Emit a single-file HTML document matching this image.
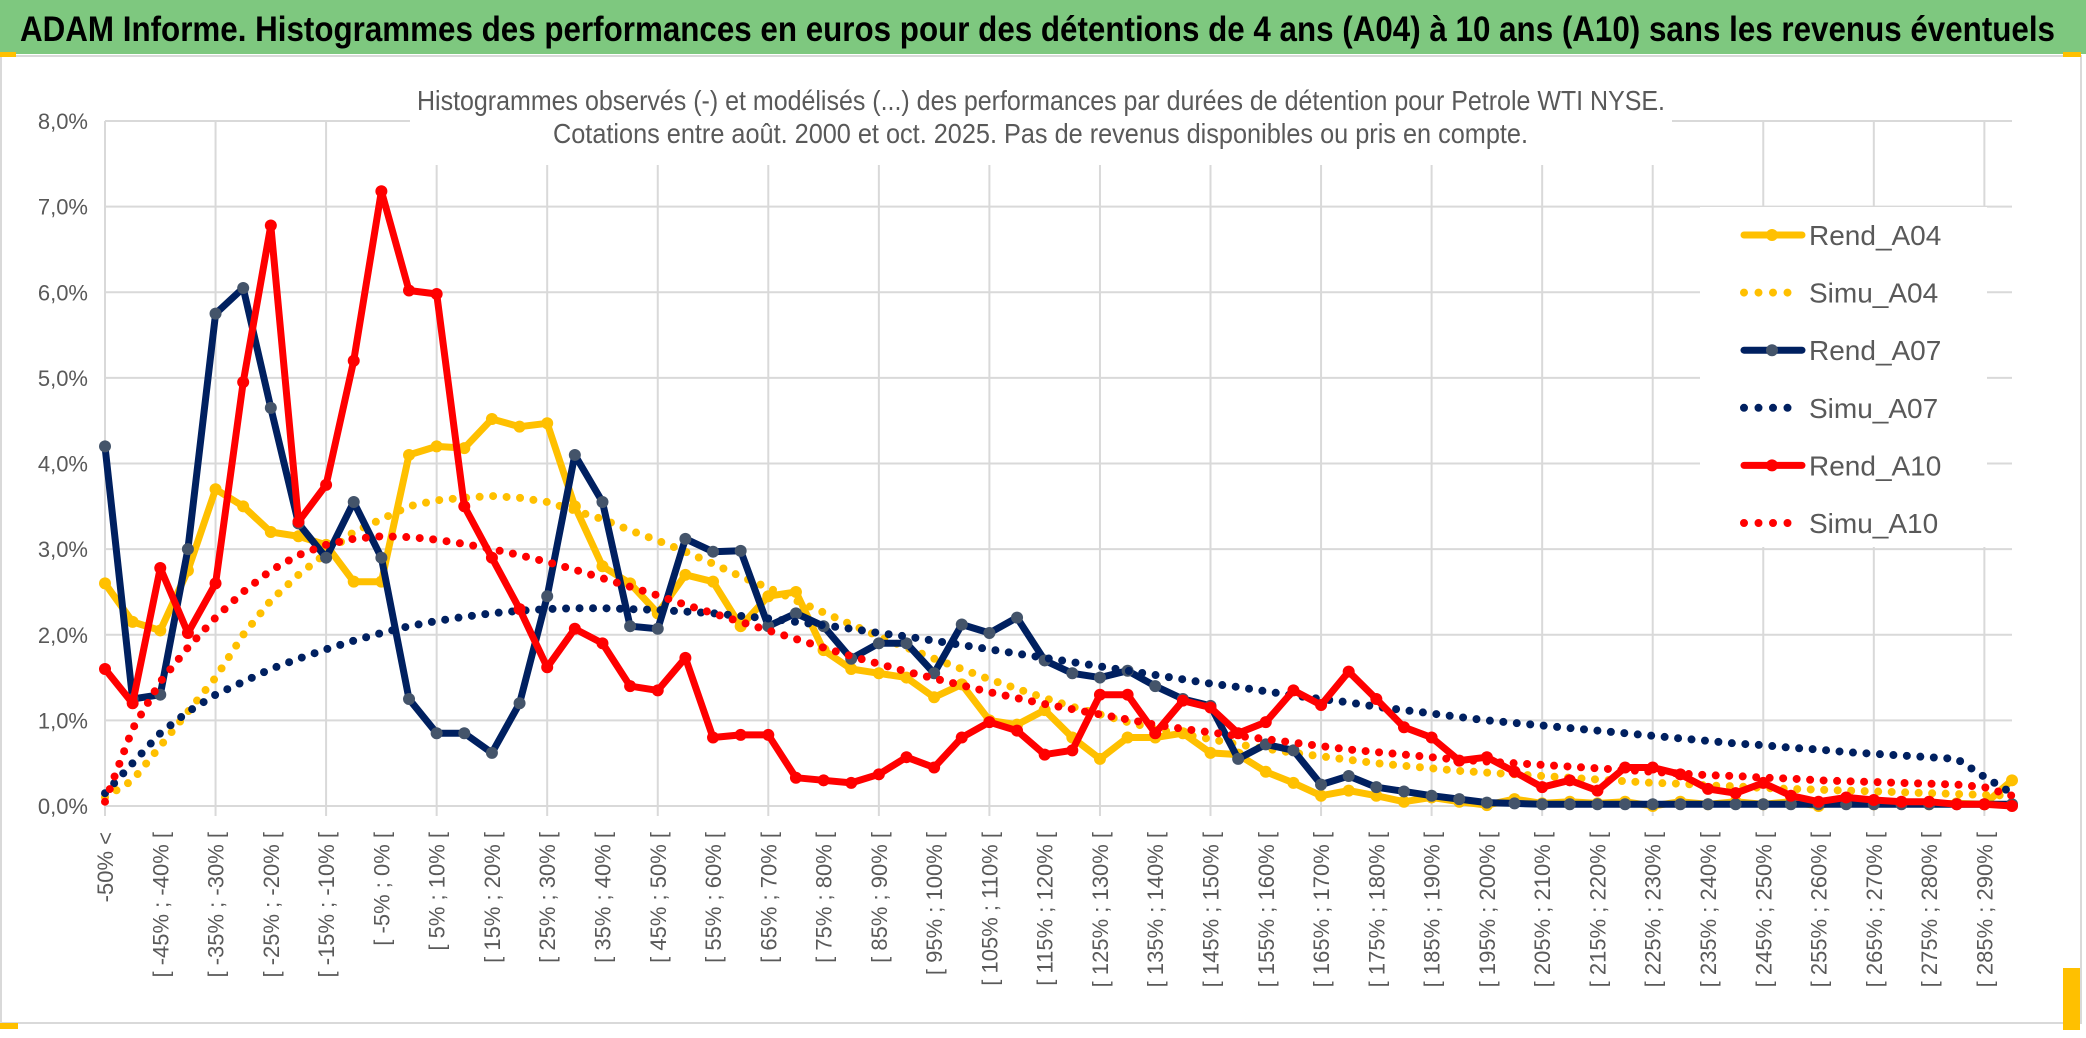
<!DOCTYPE html>
<html><head><meta charset="utf-8">
<style>
html,body{margin:0;padding:0;background:#fff;}
body{width:2086px;height:1033px;overflow:hidden;font-family:"Liberation Sans",sans-serif;}
svg text{font-family:"Liberation Sans",sans-serif;}
</style></head>
<body>
<svg id="chart" width="2086" height="1033" viewBox="0 0 2086 1033" xmlns="http://www.w3.org/2000/svg">
  <rect x="0" y="0" width="2086" height="1033" fill="#fff"/>
  <rect x="0" y="0" width="2086" height="54" fill="#7ec87f"/>
  <text x="20" y="41" font-size="35" font-weight="bold" fill="#000" textLength="2035" lengthAdjust="spacingAndGlyphs">ADAM Informe. Histogrammes des performances en euros pour des détentions de 4 ans (A04) à 10 ans (A10) sans les revenus éventuels</text>
  <rect x="1" y="56" width="2080" height="967" fill="none" stroke="#d9d9d9" stroke-width="2"/>
  <rect x="0" y="52" width="16" height="5" fill="#ffc000"/>
  <rect x="2063" y="52" width="18" height="5" fill="#ffc000"/>
  <rect x="0" y="1023" width="18" height="6" fill="#ffc000"/>
  <rect x="2063" y="968" width="17" height="62" fill="#ffc000"/>
  <g id="grid"></g>
  <rect x="410" y="112" width="1262" height="53" fill="#fff"/>
  <text x="417" y="110" font-size="28" fill="#595959" textLength="1248" lengthAdjust="spacingAndGlyphs">Histogrammes observés (-) et modélisés (...) des performances par durées de détention pour Petrole WTI NYSE.</text>
  <text x="553" y="143" font-size="28" fill="#595959" textLength="975" lengthAdjust="spacingAndGlyphs">Cotations entre août. 2000 et oct. 2025. Pas de revenus disponibles ou pris en compte.</text>
  <rect x="1700" y="207" width="287" height="340" fill="#fff"/>
  <g id="yaxis"></g>
  <g id="xaxis"></g>
  <g id="series"></g>
  <g id="legend"></g>
</svg>
<script>
const yTicks = [0,1,2,3,4,5,6,7,8];
const rendA04 = [2.6,2.15,2.05,2.75,3.7,3.5,3.2,3.15,3.05,2.62,2.62,4.1,4.2,4.18,4.52,4.43,4.47,3.5,2.8,2.6,2.25,2.7,2.62,2.1,2.45,2.5,1.82,1.6,1.55,1.5,1.27,1.42,1.0,0.95,1.12,0.8,0.55,0.8,0.8,0.85,0.62,0.6,0.4,0.27,0.12,0.18,0.12,0.05,0.1,0.05,0.01,0.08,0.03,0.05,0.03,0.05,0.0,0.05,0.02,0.05,0.02,0.05,0.0,0.08,0.02,0.04,0.02,0.03,0.02,0.3];
const simuA04 = [0.1,0.3,0.7,1.1,1.5,2.0,2.4,2.7,2.95,3.2,3.35,3.5,3.57,3.6,3.62,3.6,3.55,3.45,3.35,3.22,3.1,2.97,2.83,2.68,2.55,2.4,2.26,2.12,1.98,1.85,1.72,1.6,1.48,1.37,1.26,1.16,1.07,0.98,0.9,0.84,0.78,0.72,0.67,0.62,0.58,0.54,0.5,0.47,0.44,0.41,0.39,0.37,0.35,0.33,0.31,0.29,0.27,0.26,0.24,0.23,0.21,0.2,0.19,0.18,0.17,0.16,0.15,0.14,0.13,0.12];
const rendA07 = [4.2,1.25,1.3,3.0,5.75,6.05,4.65,3.3,2.9,3.55,2.9,1.25,0.85,0.85,0.62,1.2,2.45,4.1,3.55,2.1,2.07,3.12,2.97,2.98,2.1,2.25,2.1,1.72,1.9,1.9,1.55,2.12,2.02,2.2,1.7,1.55,1.5,1.58,1.4,1.25,1.17,0.55,0.72,0.65,0.25,0.35,0.22,0.17,0.12,0.08,0.04,0.03,0.02,0.02,0.02,0.02,0.02,0.02,0.02,0.02,0.02,0.02,0.02,0.02,0.02,0.02,0.02,0.02,0.02,0.02];
const simuA07 = [0.15,0.5,0.85,1.1,1.3,1.45,1.6,1.72,1.83,1.93,2.02,2.1,2.16,2.21,2.25,2.28,2.3,2.31,2.31,2.3,2.29,2.27,2.25,2.22,2.19,2.15,2.11,2.07,2.02,1.98,1.93,1.88,1.83,1.78,1.73,1.68,1.63,1.58,1.53,1.48,1.43,1.39,1.34,1.29,1.25,1.21,1.16,1.12,1.08,1.04,1.0,0.97,0.94,0.91,0.88,0.85,0.82,0.79,0.76,0.73,0.71,0.68,0.66,0.63,0.61,0.59,0.57,0.55,0.34,0.15];
const rendA10 = [1.6,1.2,2.78,2.02,2.6,4.95,6.78,3.32,3.75,5.2,7.18,6.02,5.98,3.5,2.9,2.3,1.62,2.07,1.9,1.4,1.35,1.73,0.8,0.83,0.83,0.33,0.3,0.27,0.37,0.57,0.45,0.8,0.98,0.88,0.6,0.65,1.3,1.3,0.85,1.23,1.15,0.85,0.98,1.35,1.18,1.57,1.25,0.92,0.8,0.53,0.57,0.4,0.22,0.3,0.18,0.45,0.45,0.37,0.2,0.15,0.27,0.12,0.05,0.1,0.07,0.05,0.05,0.02,0.02,0.0];
const simuA10 = [0.05,0.9,1.45,1.85,2.2,2.5,2.75,2.93,3.05,3.12,3.15,3.14,3.11,3.06,3.0,2.93,2.85,2.76,2.66,2.56,2.46,2.35,2.25,2.15,2.05,1.95,1.85,1.75,1.66,1.57,1.49,1.41,1.33,1.26,1.19,1.13,1.07,1.01,0.95,0.9,0.86,0.82,0.78,0.74,0.7,0.66,0.63,0.6,0.57,0.54,0.52,0.5,0.48,0.46,0.44,0.42,0.4,0.38,0.36,0.35,0.33,0.32,0.3,0.29,0.28,0.27,0.26,0.25,0.22,0.12];
const categories = ["-50% <"];
for (let k = -50; k < 295; k += 5) categories.push("[ " + k + "% ; " + (k + 5) + "% [");

const NS = "http://www.w3.org/2000/svg";
const X0 = 105, X1 = 2012, Y0 = 806, Y8 = 121;
const xs = i => X0 + i * (X1 - X0) / (categories.length - 1);
const ys = v => Y0 - v * (Y0 - Y8) / 8;
function mk(tag, attrs, parent) {
  const el = document.createElementNS(NS, tag);
  for (const k in attrs) el.setAttribute(k, attrs[k]);
  parent.appendChild(el);
  return el;
}
const grid = document.getElementById('grid');
yTicks.forEach(t => {
  const l = mk('line', {x1: X0, x2: X1, y1: ys(t), y2: ys(t), stroke: '#d9d9d9', 'stroke-width': 2}, grid);
  
  
});
for (let i = 0; i < categories.length; i += 4) {
  const l = mk('line', {x1: xs(i), x2: xs(i), y1: Y8, y2: Y0 + 10, stroke: '#d9d9d9', 'stroke-width': 2}, grid);
  
  
}
const yaxis = document.getElementById('yaxis');
yTicks.forEach(t => {
  const tx = mk('text', {x: 88, y: ys(t) + 8, 'font-size': 22, fill: '#595959', 'text-anchor': 'end'}, yaxis);
  tx.textContent = t.toFixed(1).replace('.', ',') + '%';
  
  
});
const xaxis = document.getElementById('xaxis');
for (let i = 0; i < categories.length; i += 2) {
  const x = xs(i) + 8, y = 832;
  const tx = mk('text', {x: x, y: y, 'font-size': 22, fill: '#595959', 'text-anchor': 'end', transform: 'rotate(-90 ' + x + ' ' + y + ')'}, xaxis);
  tx.textContent = categories[i];
  
  
}
const series = document.getElementById('series');
function pts(arr) { return arr.map((v, i) => xs(i).toFixed(1) + ',' + ys(v).toFixed(1)).join(' '); }
function drawRend(arr, color, mcolor, name) {
  const g = mk('g', {}, series);
  
  
  mk('polyline', {points: pts(arr), fill: 'none', stroke: color, 'stroke-width': 7, 'stroke-linejoin': 'round', 'stroke-linecap': 'round'}, g);
  arr.forEach((v, i) => {
    const c = mk('circle', {cx: xs(i), cy: ys(v), r: 6, fill: mcolor}, g);
    
    
  });
}
function drawSimu(arr, color, name) {
  const p = mk('polyline', {points: pts(arr), fill: 'none', stroke: color, 'stroke-width': 8, 'stroke-linecap': 'round', 'stroke-dasharray': '0 13.5'}, series);
  
  
}
drawRend(rendA04, '#ffc000', '#ffc000', 'rend-a04-line');
drawSimu(simuA04, '#ffc000', 'simu-a04-line');
drawRend(rendA07, '#002060', '#44546a', 'rend-a07-line');
drawSimu(simuA07, '#002060', 'simu-a07-line');
drawRend(rendA10, '#ff0000', '#ff0000', 'rend-a10-line');
drawSimu(simuA10, '#ff0000', 'simu-a10-line');

const legendItems = [
  ['Rend_A04', '#ffc000', '#ffc000', false],
  ['Simu_A04', '#ffc000', null, true],
  ['Rend_A07', '#002060', '#44546a', false],
  ['Simu_A07', '#002060', null, true],
  ['Rend_A10', '#ff0000', '#ff0000', false],
  ['Simu_A10', '#ff0000', null, true]
];
const legend = document.getElementById('legend');
legendItems.forEach((it, k) => {
  const y = 235 + k * 57.6;
  const g = mk('g', {}, legend);
  
  
  if (it[3]) {
    mk('line', {x1: 1744, x2: 1802, y1: y, y2: y, stroke: it[1], 'stroke-width': 8, 'stroke-linecap': 'round', 'stroke-dasharray': '0 14.5'}, g);
  } else {
    mk('line', {x1: 1744, x2: 1802, y1: y, y2: y, stroke: it[1], 'stroke-width': 7, 'stroke-linecap': 'round'}, g);
    mk('circle', {cx: 1772, cy: y, r: 6, fill: it[2]}, g);
  }
  const t = mk('text', {x: 1809, y: y + 10, 'font-size': 28, fill: '#595959'}, g);
  t.textContent = it[0];
});
</script>
</body></html>
